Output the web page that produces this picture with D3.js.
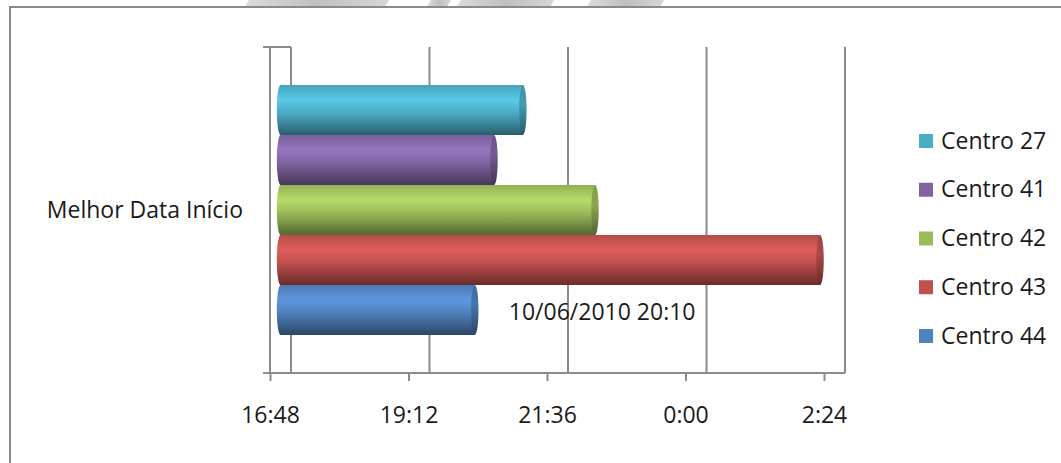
<!DOCTYPE html>
<html>
<head>
<meta charset="utf-8">
<script src="https://cdn.jsdelivr.net/npm/d3@7"></script>
<style>
  html, body { margin: 0; padding: 0; background: #fff; }
  svg { display: block; }
  text { font-family: "Open Sans", "Noto Sans", sans-serif; fill: #1a1a1a; }
</style>
</head>
<body>
<svg id="chart" width="1061" height="463"></svg>
<script>
// ---- data ----
const categories = ["Melhor Data Início"];
const seriesNames = ["Centro 27", "Centro 41", "Centro 42", "Centro 43", "Centro 44"];
const seriesValues = ["2010-06-10T21:00", "2010-06-10T20:30", "2010-06-10T22:15", "2010-06-11T02:09", "2010-06-10T20:10"];
const seriesColors = ["#4BACC6", "#8064A2", "#9BBB59", "#C0504D", "#4F81BD"];
const tickLabels = ["16:48", "19:12", "21:36", "0:00", "2:24"];
const tickTimes = ["2010-06-10T16:48", "2010-06-10T19:12", "2010-06-10T21:36", "2010-06-11T00:00", "2010-06-11T02:24"];
const dataLabelSeries = "Centro 44";
const dataLabelText = "10/06/2010 20:10";

const parse = d3.timeParse("%Y-%m-%dT%H:%M");
const svg = d3.select("#chart");
const defs = svg.append("defs");
const FS = 23;

// ---- layout ----
const frontLeft = 270, frontRight = 824;
const depth = 21;                 // 3D depth offset of the back wall
const plotTop = 47, plotBottom = 373;

const x = d3.scaleTime()
  .domain([parse(tickTimes[0]), parse(tickTimes[tickTimes.length - 1])])
  .range([frontLeft, frontRight]);

const yCat = d3.scaleBand().domain(categories).range([plotTop, plotBottom]);
const ySer = d3.scaleBand().domain(seriesNames)
  .range([yCat(categories[0]), yCat(categories[0]) + yCat.bandwidth()])
  .paddingInner(0).paddingOuter(0.76);

// ---- background / chart frame ----
const stripes = [[245, 385], [427, 447], [457, 550], [587, 660]];
const sg = defs.append("linearGradient").attr("id", "stripe").attr("x1", 0).attr("x2", 1);
sg.append("stop").attr("offset", "0%").attr("stop-color", "#d6d6d6");
sg.append("stop").attr("offset", "50%").attr("stop-color", "#b4b4b4");
sg.append("stop").attr("offset", "100%").attr("stop-color", "#d0d0d0");
svg.append("g").selectAll("path").data(stripes).join("path")
  .attr("d", d => `M${d[0] + 4},0 L${d[1] + 4},0 L${d[1]},7 L${d[0]},7 Z`)
  .attr("fill", "url(#stripe)").attr("opacity", 0.85);

svg.append("rect").attr("x", 10).attr("y", 7).attr("width", 1100).attr("height", 500)
  .attr("fill", "#fff").attr("stroke", "#8a8a8a").attr("stroke-width", 2);

const gridColor = "#8c8c8c";

// ---- back wall gridlines ----
svg.append("g").selectAll("line").data(tickTimes).join("line")
  .attr("x1", d => x(parse(d)) + depth).attr("x2", d => x(parse(d)) + depth)
  .attr("y1", plotTop).attr("y2", plotBottom)
  .attr("stroke", gridColor).attr("stroke-width", 2);

// side wall top edge + category axis ticks
const axisG = svg.append("g").attr("stroke", gridColor).attr("stroke-width", 2).attr("fill", "none");
axisG.append("path").attr("d", `M${frontLeft - 7},${plotTop} L${frontLeft + depth},${plotTop}`);
axisG.append("path").attr("d", `M${frontLeft},${plotTop} L${frontLeft},${plotBottom}`);
axisG.append("path").attr("d", `M${frontLeft - 7},${plotBottom} L${frontRight + depth},${plotBottom}`);

// value axis (front)
const xAxis = d3.axisBottom(x)
  .tickValues(tickTimes.map(parse))
  .tickFormat((d, i) => tickLabels[i])
  .tickSize(8).tickSizeOuter(0).tickPadding(26);
const xg = svg.append("g").attr("transform", `translate(0,${plotBottom})`).call(xAxis);
xg.select(".domain").remove();
xg.selectAll(".tick line").attr("stroke", gridColor).attr("stroke-width", 2);
xg.selectAll(".tick text").attr("font-size", FS).attr("fill", "#1a1a1a")
  .attr("font-family", "'Open Sans', sans-serif");

// category label
svg.append("text")
  .attr("x", 243).attr("y", yCat(categories[0]) + yCat.bandwidth() / 2 + 8)
  .attr("text-anchor", "end")
  .attr("font-size", FS).text(categories[0]);

// ---- cylinder gradients ----
seriesColors.forEach((c, i) => {
  const base = d3.color(c);
  const g = defs.append("linearGradient").attr("id", "body" + i)
    .attr("x1", 0).attr("y1", 0).attr("x2", 0).attr("y2", 1);
  [[0, base.darker(0.15)], [0.3, base.brighter(0.45)], [0.55, base], [0.85, base.darker(1.0)], [1, base.darker(1.7)]]
    .forEach(([o, col]) => g.append("stop").attr("offset", o).attr("stop-color", col.formatHex()));
  const e = defs.append("linearGradient").attr("id", "cap" + i)
    .attr("x1", 0).attr("y1", 0).attr("x2", 0).attr("y2", 1);
  [[0, base.darker(0.5)], [0.4, base.darker(0.3)], [1, base.darker(1.8)]]
    .forEach(([o, col]) => e.append("stop").attr("offset", o).attr("stop-color", col.formatHex()));
});

// ---- bars (cylinders) ----
const mid = depth / 2;
const rx = 3.7;
const bars = svg.append("g").selectAll("g").data(seriesNames).join("g");
bars.each(function (name, i) {
  const g = d3.select(this);
  const y0 = ySer(name), h = ySer.bandwidth();
  const x0 = x(x.domain()[0]) + mid;
  const x1 = x(parse(seriesValues[i])) + mid;
  g.append("ellipse").attr("cx", x0).attr("cy", y0 + h / 2).attr("rx", rx).attr("ry", h / 2)
    .attr("fill", `url(#body${i})`);
  g.append("rect").attr("x", x0).attr("y", y0).attr("width", x1 - x0).attr("height", h)
    .attr("fill", `url(#body${i})`);
  g.append("ellipse").attr("cx", x1).attr("cy", y0 + h / 2).attr("rx", rx).attr("ry", h / 2)
    .attr("fill", `url(#cap${i})`);
});

// data label
const li = seriesNames.indexOf(dataLabelSeries);
svg.append("text")
  .attr("x", x(parse(seriesValues[li])) + mid + 34)
  .attr("y", ySer(dataLabelSeries) + ySer.bandwidth() / 2 + 10)
  .attr("font-size", FS)
  .text(dataLabelText);

// ---- legend ----
const legY = d3.scalePoint().domain(seriesNames).range([141, 336]);
const leg = svg.append("g").selectAll("g").data(seriesNames).join("g")
  .attr("transform", d => `translate(919,${legY(d)})`);
leg.append("rect").attr("x", 0).attr("y", -7).attr("width", 14).attr("height", 14)
  .attr("fill", (d, i) => seriesColors[i]);
leg.append("text").attr("x", 22).attr("y", 7.5)
  .attr("font-size", FS).text(d => d);
</script>
</body>
</html>
